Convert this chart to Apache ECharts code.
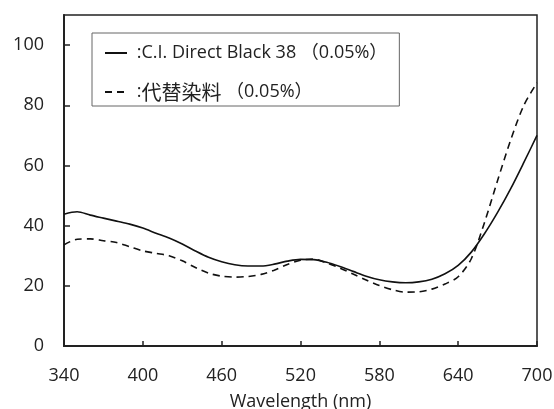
<!DOCTYPE html>
<html>
<head>
<meta charset="utf-8">
<script src="https://cdn.jsdelivr.net/npm/echarts@6/dist/echarts.min.js"></script>
<style>
  html, body { margin: 0; padding: 0; background: #fff; }
  #chart { width: 554px; height: 409px; }
</style>
</head>
<body>
<div id="chart"></div>
<script>
// 波長 (nm)
const wavelengths = [340, 350, 360, 370, 380, 390, 400, 410, 420, 430, 440, 450, 460, 470, 480, 490, 500, 510, 520,
  530, 540, 550, 560, 570, 580, 590, 600, 610, 620, 630, 640, 650, 660, 670, 680, 690, 700]

// C.I. Direct Black 38 (0.05%)
const directBlack = [43.8, 44.6, 43.5, 42.5, 41.5, 40.5, 39.2, 37.5, 35.9, 33.9, 31.6, 29.5, 28.0, 27.0, 26.6, 26.6,
  27.2, 28.2, 28.8, 28.7, 27.8, 26.4, 24.8, 23.2, 22.0, 21.3, 21.0, 21.3, 22.2, 24.0, 26.8, 31.2, 37.3, 44.4, 52.3,
  61.0, 70.0]

// 代替染料 (0.05%)
const substitute = [33.6, 35.5, 35.6, 35.0, 34.4, 33.0, 31.6, 30.8, 30.0, 28.3, 26.1, 24.2, 23.2, 22.9, 23.1, 23.8,
  25.2, 27.1, 28.5, 28.9, 27.6, 25.9, 23.9, 21.9, 20.1, 18.7, 17.9, 18.0, 18.9, 20.6, 23.0, 29.0, 41.0, 55.0, 68.5,
  80.0, 87.5]

const seriesNames = ['C.I. Direct Black 38 （0.05%）', '代替染料 （0.05%）']
const axisTitle = 'Wavelength (nm)'

const font = '"Open Sans", "Noto Sans CJK JP", sans-serif'
const ink = '#222'

const toPairs = (vals) => vals.map((v, i) => [wavelengths[i], v])

const chart = echarts.init(document.getElementById('chart'))

chart.setOption({
  backgroundColor: '#fff',
  animation: false,
  textStyle: { fontFamily: font, color: ink },
  grid: {
    left: 64, top: 15, right: 17, bottom: 63,
    outerBoundsMode: 'none',
    show: true, borderColor: ink, borderWidth: 1.5,
    backgroundColor: 'transparent',
  },
  legend: {
    left: 92, top: 33,
    orient: 'vertical',
    backgroundColor: '#fff',
    borderColor: '#666', borderWidth: 1, borderRadius: 0,
    padding: [10, 12, 4, 12],
    itemWidth: 22, itemHeight: 14, itemGap: 19,
    itemStyle: { opacity: 0 },
    // 漢字だけ少し大きめ
    formatter: (name) => ' :' + name.replace(/[\u4e00-\u9fff]+/g, (s) => '{cjk|' + s + '}'),
    textStyle: {
      fontFamily: font, fontSize: 18, lineHeight: 20, color: ink,
      rich: { cjk: { fontFamily: '"Noto Sans CJK JP", sans-serif', fontSize: 20, lineHeight: 20, color: ink } },
    },
    data: seriesNames,
  },
  xAxis: {
    type: 'value',
    min: 340, max: 700, interval: 60,
    name: axisTitle,
    nameLocation: 'middle',
    nameGap: 47,
    nameTextStyle: { fontFamily: font, fontSize: 18, color: ink },
    axisLine: { lineStyle: { color: ink, width: 2 } },
    axisTick: { inside: true, length: 5, lineStyle: { color: ink, width: 1.5 } },
    axisLabel: { fontFamily: font, fontSize: 18, color: ink, margin: 21 },
    splitLine: { show: false },
  },
  yAxis: {
    type: 'value',
    min: 0, max: 110, interval: 20,
    axisLine: { show: true, lineStyle: { color: ink, width: 2 } },
    axisTick: { show: true, inside: true, length: 6, lineStyle: { color: ink, width: 1.5 } },
    axisLabel: { fontFamily: font, fontSize: 18, color: ink, margin: 20, showMaxLabel: false },
    splitLine: { show: false },
  },
  series: [
    {
      name: seriesNames[0],
      type: 'line',
      data: toPairs(directBlack),
      smooth: 0.3,
      showSymbol: false,
      symbol: 'none',
      lineStyle: { color: '#111', width: 1.6, type: 'solid' },
      itemStyle: { color: '#111' },
    },
    {
      name: seriesNames[1],
      type: 'line',
      data: toPairs(substitute),
      smooth: 0.3,
      showSymbol: false,
      symbol: 'none',
      lineStyle: { color: '#111', width: 1.6, type: [7, 5] },
      itemStyle: { color: '#111' },
    },
  ],
})
</script>
</body>
</html>
